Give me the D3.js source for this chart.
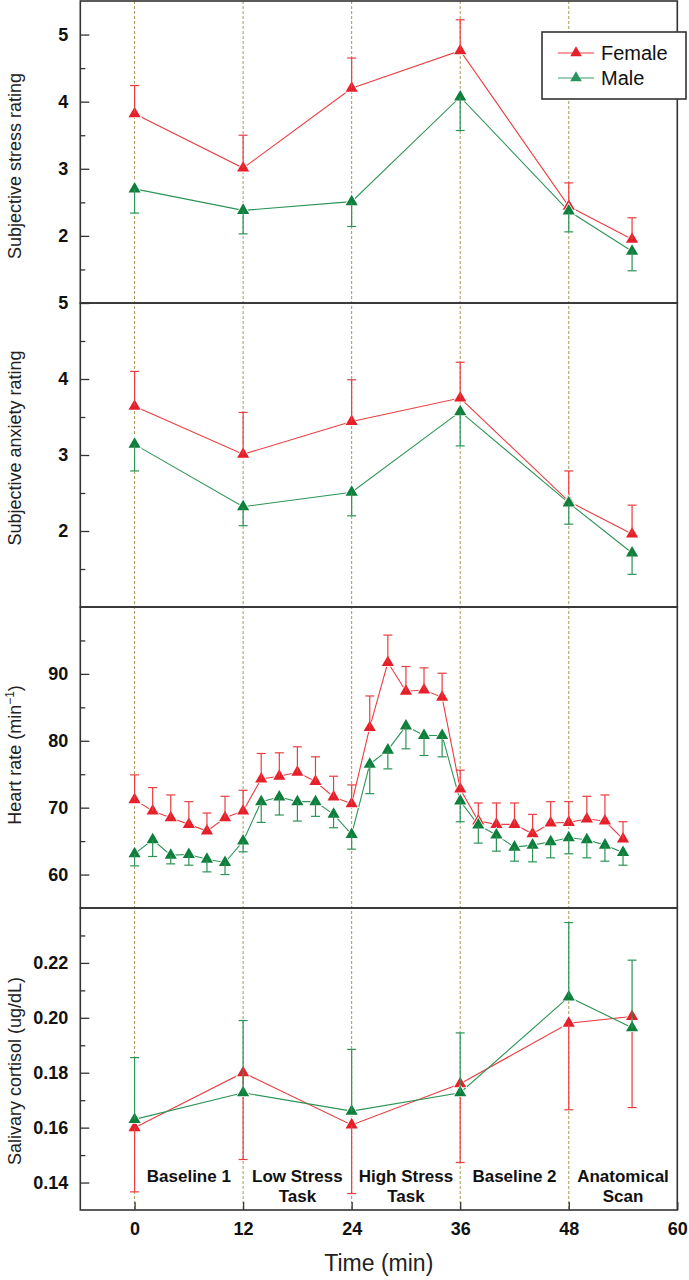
<!DOCTYPE html>
<html>
<head>
<meta charset="utf-8">
<script src="https://cdn.jsdelivr.net/npm/d3@7"></script>
<style>
html,body{margin:0;padding:0;background:#fff;}
svg{display:block;}
text{font-family:"Liberation Sans",Arial,sans-serif;}
</style>
</head>
<body>
<svg id="chart" width="689" height="1280"></svg>
<script>
// ---------- data ----------
const subjTimes = [0, 12, 24, 36, 48, 55];
const stressFemale    = [3.82, 3.01, 4.20, 4.76, 2.44, 1.95];
const stressFemaleErr = [0.42, 0.49, 0.45, 0.46, 0.35, 0.32];
const stressMale      = [2.70, 2.38, 2.51, 4.07, 2.37, 1.77];
const stressMaleErr   = [0.36, 0.35, 0.37, 0.50, 0.31, 0.29];

const anxFemale    = [3.64, 3.01, 3.44, 3.75, 2.39, 1.96];
const anxFemaleErr = [0.46, 0.55, 0.55, 0.47, 0.40, 0.38];
const anxMale      = [3.14, 2.32, 2.51, 3.57, 2.37, 1.71];
const anxMaleErr   = [0.35, 0.25, 0.31, 0.45, 0.28, 0.28];

const hrTimes = [0,2,4,6,8,10,12,14,16,18,20,22,24,26,28,30,32,34,36,38,40,42,44,46,48,50,52,54];
const hrFemale    = [71.2,69.5,68.5,67.5,66.5,68.5,69.5,74.3,74.7,75.3,73.9,71.6,70.6,82.0,91.7,87.4,87.6,86.5,72.8,68.0,67.5,67.5,66.1,67.7,67.8,68.3,68.0,65.3];
const hrFemaleErr = [3.7,3.5,3.4,3.4,2.7,3.2,3.1,3.8,3.5,3.8,3.7,3.1,2.8,4.7,4.1,3.7,3.3,3.6,2.8,2.7,3.2,3.2,2.9,3.2,3.1,3.4,3.9,2.6];
const hrMale      = [63.1,65.2,62.9,63.0,62.3,61.8,65.0,70.9,71.6,70.9,70.9,69.0,66.0,76.5,78.6,82.2,80.8,80.8,71.0,67.4,65.9,64.1,64.4,64.9,65.5,65.2,64.4,63.3];
const hrMaleErr   = [1.8,2.5,1.3,1.6,1.9,1.8,1.6,3.1,2.7,2.9,2.2,2.0,2.2,4.4,2.8,3.4,3.0,3.2,3.1,2.7,2.4,2.1,2.5,2.4,2.4,2.7,2.4,1.9];

const cortFemale    = [0.160, 0.180, 0.161, 0.176, 0.198, 0.2005];
const cortFemaleErr = [0.0234, 0.0316, 0.0250, 0.0287, 0.0315, 0.0332];
const cortMale      = [0.163, 0.1727, 0.166, 0.1727, 0.2076, 0.1964];
const cortMaleErr   = [0.0225, 0.0263, 0.0225, 0.0218, 0.0271, 0.0246];

const xTicks = [0, 12, 24, 36, 48, 60];
const phaseLines = [0, 12, 24, 36, 48];
const phaseCenters = [6, 18, 30, 42, 54];
const phaseLabels = [["Baseline 1"], ["Low Stress", "Task"], ["High Stress", "Task"], ["Baseline 2"], ["Anatomical", "Scan"]];
const seriesNames = ["Female", "Male"];

// ---------- styles ----------
const RED_M = "#e6202a", RED_L = "#ea3d40";
const GRN_M = "#0e7f3c", GRN_L = "#2c9456";
const FRAME = "#333";

const svg = d3.select("#chart");
const x = d3.scaleLinear().domain([-6, 60]).range([80.3, 677.3]);
const L = x.range()[0], R = x.range()[1];

const panels = [
  {top: 1,   bottom: 303,  domain: [1, 5.5],     ticks: [2,3,4,5],   minor: [1.5,2.5,3.5,4.5], fmt: d3.format("d"),
   title: "Subjective stress rating", titleY: 166, t: subjTimes,
   f: stressFemale, fe: stressFemaleErr, m: stressMale, me: stressMaleErr, fDir: 1, mDir: -1},
  {top: 303, bottom: 607,  domain: [1, 5],       ticks: [2,3,4,5],   minor: [1.5,2.5,3.5,4.5], fmt: d3.format("d"),
   title: "Subjective anxiety rating", titleY: 448, t: subjTimes,
   f: anxFemale, fe: anxFemaleErr, m: anxMale, me: anxMaleErr, fDir: 1, mDir: -1},
  {top: 607, bottom: 908,  domain: [55, 100],    ticks: [60,70,80,90], minor: [65,75,85,95], fmt: d3.format("d"),
   title: null, titleY: 755, t: hrTimes,
   f: hrFemale, fe: hrFemaleErr, m: hrMale, me: hrMaleErr, fDir: 1, mDir: -1},
  {top: 908, bottom: 1210, domain: [0.13, 0.24], ticks: [0.14,0.16,0.18,0.20,0.22], minor: [0.15,0.17,0.19,0.21,0.23], fmt: d3.format(".2f"),
   title: "Salivary cortisol (ug/dL)", titleY: 1071, t: subjTimes,
   f: cortFemale, fe: cortFemaleErr, m: cortMale, me: cortMaleErr, fDir: -1, mDir: 1}
];

// dashed phase lines across all panels
svg.append("g").selectAll("line").data(phaseLines).join("line")
  .attr("x1", d => x(d)).attr("x2", d => x(d))
  .attr("y1", panels[0].top).attr("y2", panels[3].bottom)
  .attr("stroke", "#a39b55").attr("stroke-width", 1).attr("stroke-dasharray", "3,2");

const tri = d3.symbol().type(d3.symbolTriangle).size(64)();
const triSmall = d3.symbol().type(d3.symbolTriangle).size(58)();

panels.forEach((p, pi) => {
  const y = d3.scaleLinear().domain(p.domain).range([p.bottom, p.top]);
  const g = svg.append("g");

  // axes (inward ticks)
  const ya = g.append("g").attr("transform", `translate(${L},0)`)
    .call(d3.axisLeft(y).tickValues(p.ticks).tickFormat(p.fmt).tickSize(-9).tickPadding(12));
  ya.select(".domain").remove();
  ya.selectAll("line").attr("stroke", FRAME).attr("stroke-width", 1.3);
  ya.selectAll("text").attr("font-size", 18).attr("font-weight", "bold").attr("fill", "#111")
    .attr("font-family", "'Liberation Sans', Arial, sans-serif");
  const ym = g.append("g").attr("transform", `translate(${L},0)`)
    .call(d3.axisLeft(y).tickValues(p.minor).tickFormat("").tickSize(-5));
  ym.select(".domain").remove();
  ym.selectAll("line").attr("stroke", FRAME).attr("stroke-width", 1.3);

  // y title
  const tt = g.append("text")
    .attr("transform", `translate(15,${p.titleY}) rotate(-90)`)
    .attr("text-anchor", "middle").attr("dy", "0.35em")
    .attr("font-size", 18).attr("fill", "#222");
  if (p.title) tt.text(p.title);
  else {
    tt.append("tspan").text("Heart rate (min");
    tt.append("tspan").text("\u22121").attr("font-size", 12).attr("baseline-shift", "super");
    tt.append("tspan").text(")");
  }

  const line = d3.line().x(d => x(d[0])).y(d => y(d[1]));
  const series = [
    {v: p.f, e: p.fe, dir: p.fDir, lc: RED_L, mc: RED_M},
    {v: p.m, e: p.me, dir: p.mDir, lc: GRN_L, mc: GRN_M}
  ];
  series.forEach(s => {
    g.append("path").datum(p.t.map((t, i) => [t, s.v[i]]))
      .attr("d", line).attr("fill", "none").attr("stroke", s.lc).attr("stroke-width", 1.1);
  });
  series.forEach(s => {
    const pts = p.t.map((t, i) => ({t, v: s.v[i], e: s.e[i]}));
    g.append("g").selectAll("path").data(pts).join("path")
      .attr("d", tri)
      .attr("transform", d => `translate(${x(d.t)},${y(d.v)})`)
      .attr("fill", s.mc).attr("stroke", "#fff").attr("stroke-width", 1.6)
      .attr("paint-order", "stroke");
    const eb = g.append("g").attr("stroke", s.lc).attr("stroke-width", 1.2);
    eb.selectAll("line.v").data(pts).join("line").attr("class", "v")
      .attr("x1", d => x(d.t)).attr("x2", d => x(d.t))
      .attr("y1", d => y(d.v)).attr("y2", d => y(d.v + s.dir * d.e));
    eb.selectAll("line.c").data(pts).join("line").attr("class", "c")
      .attr("x1", d => x(d.t) - 4.5).attr("x2", d => x(d.t) + 4.5)
      .attr("y1", d => y(d.v + s.dir * d.e)).attr("y2", d => y(d.v + s.dir * d.e));
  });

  // frame
  g.append("rect").attr("x", L).attr("y", p.top).attr("width", R - L).attr("height", p.bottom - p.top)
    .attr("fill", "none").attr("stroke", FRAME).attr("stroke-width", 1.6);
});

// x axis
const xa = svg.append("g").attr("transform", `translate(0,${panels[3].bottom})`)
  .call(d3.axisBottom(x).tickValues(xTicks).tickSize(-8).tickPadding(12));
xa.select(".domain").remove();
xa.selectAll("line").attr("stroke", FRAME).attr("stroke-width", 1.3);
xa.selectAll("text").attr("font-size", 18).attr("font-weight", "bold").attr("fill", "#111")
  .attr("font-family", "'Liberation Sans', Arial, sans-serif");

svg.append("text").attr("x", (L + R) / 2).attr("y", 1271)
  .attr("text-anchor", "middle").attr("font-size", 23).attr("fill", "#222").text("Time (min)");

// phase labels
const pl = svg.append("g");
phaseLabels.forEach((lines, i) => {
  lines.forEach((s, j) => {
    pl.append("text").attr("x", x(phaseCenters[i])).attr("y", 1182 + j * 20)
      .attr("text-anchor", "middle").attr("font-size", 17).attr("font-weight", "bold")
      .attr("fill", "#111").text(s);
  });
});

// legend
const lg = svg.append("g");
lg.append("rect").attr("x", 542).attr("y", 32).attr("width", 144).attr("height", 67)
  .attr("fill", "#fff").attr("stroke", FRAME).attr("stroke-width", 1.6);
[[RED_L, RED_M], ["#3a9d68", "#2a9460"]].forEach((c, i) => {
  const yy = 53 + i * 25;
  lg.append("line").attr("x1", 558).attr("x2", 594).attr("y1", yy).attr("y2", yy)
    .attr("stroke", c[0]).attr("stroke-width", 1.2);
  lg.append("path").attr("d", triSmall).attr("transform", `translate(576,${yy})`).attr("fill", c[1]);
  lg.append("text").attr("x", 601).attr("y", yy).attr("dy", "0.36em")
    .attr("font-size", 20).attr("fill", "#111").text(seriesNames[i]);
});
</script>
</body>
</html>
